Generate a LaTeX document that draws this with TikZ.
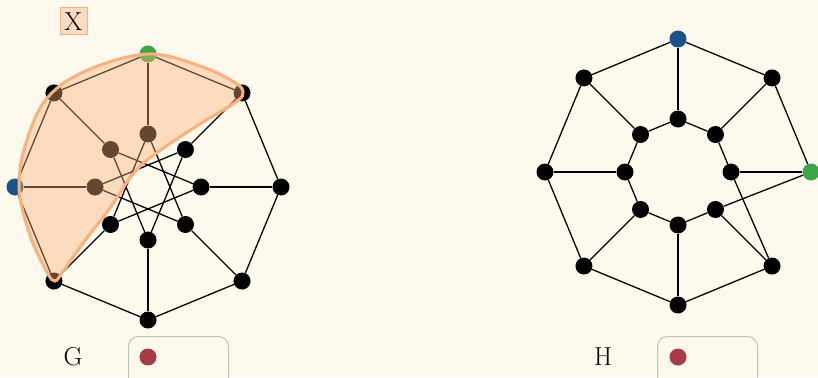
\documentclass[tikz,border=0pt]{standalone}
\usepackage{tikz}
\usetikzlibrary{positioning,calc}
\definecolor{Paper}{HTML}{FDF9EC}
\definecolor{Accent}{HTML}{FCB07C}
\definecolor{AccentLight}{HTML}{FDDCC3}
\definecolor{StartBlue}{HTML}{1B5288}
\definecolor{EndGreen}{HTML}{3DA548}
\definecolor{Marker}{HTML}{A93B49}
\definecolor{Frame}{HTML}{C5C2BA}

\begin{document}
\begin{tikzpicture}[
	x=1pt, y=1pt,
	vertex/.style={circle, fill=black, inner sep=0pt, minimum size=17pt},
	link/.style={line width=1.3pt, draw=black},
	legendbox/.style={draw=Frame, line width=1pt, rounded corners=10pt, fill=Paper},
	marker/.style={circle, fill=Marker, inner sep=0pt, minimum size=17pt},
	caption/.style={font=\fontsize{26}{28}\selectfont, inner sep=0pt}
	]
	\useasboundingbox[fill=Paper] (0,-377) rectangle (818,0);
	\clip (0,-377) rectangle (818,0);
	
	% graph G
	\begin{scope}[shift={(148,-187)}]
		\foreach \i/\c in {0/EndGreen,1/black,2/black,3/black,4/black,5/black,6/StartBlue,7/black} {
			\node[vertex, fill=\c] (go\i) at (90-45*\i:133) {};
			\node[vertex] (gi\i) at (90-45*\i:53) {};
		}
	\end{scope}
	\foreach \i in {0,...,7} {
		\pgfmathtruncatemacro\j{mod(\i+1,8)}
		\pgfmathtruncatemacro\k{mod(\i+3,8)}
		\draw[link] (go\i) -- (go\j);
		\draw[link] (go\i) -- (gi\i);
		\draw[link] (gi\i) -- (gi\k);
	}
	
	% graph H
	\begin{scope}[shift={(678,-172)}]
		\foreach \i/\c in {0/StartBlue,1/black,2/EndGreen,3/black,4/black,5/black,6/black,7/black} {
			\node[vertex, fill=\c] (ho\i) at (90-45*\i:133) {};
			\node[vertex] (hi\i) at (90-45*\i:53) {};
		}
	\end{scope}
	\foreach \i in {0,...,7} {
		\draw[link] (ho\i) -- (hi\i);
	}
	\foreach \i in {0,1,3,4,5,6,7} {
		\pgfmathtruncatemacro\j{mod(\i+1,8)}
		\draw[link] (ho\i) -- (ho\j);
		\draw[link] (hi\i) -- (hi\j);
	}
	\draw[link] (ho2) -- (hi3);
	\draw[link] (hi2) -- (ho3);
	
	% the set X
	\draw[draw=Accent, line width=3pt, fill=Accent, fill opacity=0.4]
		plot[smooth cycle, tension=0.6] coordinates {
			(148,-54) (200,-66) (234,-82) (243,-92) (236,-102) (200,-124)
			(155,-154) (133,-174) (110,-208) (84,-242) (64,-270) (55,-281)
			(47,-272) (30,-235) (19,-187) (27,-140) (48,-97) (88,-70)};
	\node[caption, draw=Accent, fill=AccentLight, line width=1pt, minimum size=27pt] (xlabel) at (73.5,-21.5) {X};
	
	% captions and legends
	\node[caption] (gname) at (73,-357) {G};
	\node[caption] (hname) at (603,-357) {H};
	\node[legendbox, anchor=north west, minimum width=100pt, minimum height=60pt] (gkey) at (128,-336) {};
	\node[legendbox, anchor=north west, minimum width=100pt, minimum height=60pt] (hkey) at (657,-336) {};
	\node[marker] (gdot) at (148,-357) {};
	\node[marker] (hdot) at (678,-357) {};
\end{tikzpicture}
\end{document}
